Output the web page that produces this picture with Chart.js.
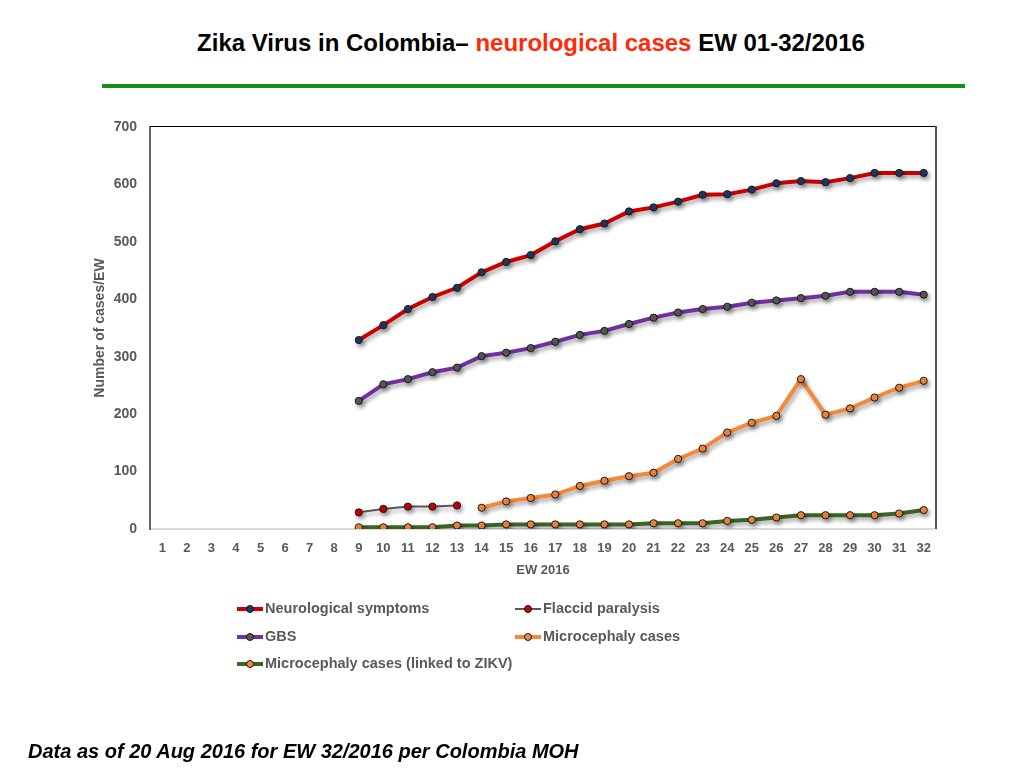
<!DOCTYPE html>
<html>
<head>
<meta charset="utf-8">
<script src="https://cdn.jsdelivr.net/npm/chart.js@4/dist/chart.umd.min.js"></script>
<style>
  body { margin: 0; background: #fff; font-family: "Liberation Sans", Arial, sans-serif; }
  #wrap { position: relative; width: 1024px; height: 768px; overflow: hidden; }
  #title { position: absolute; left: 0; width: 1062px; top: 29px; text-align: center;
           font-size: 24px; font-weight: bold; color: #000; }
  #title .red { color: #ff2a0a; }
  #rule { position: absolute; left: 102px; width: 863px; top: 84px; height: 4px; background: #138f13; }
  #chartBox { position: absolute; left: 0; top: 0; width: 1024px; height: 768px; }
  #legend { position: absolute; left: 237px; top: 598px; width: 560px; }
  .item { position: absolute; height: 20px; font-size: 14.5px; font-weight: bold; color: #595959;
          white-space: nowrap; line-height: 20px; }
  .item canvas { vertical-align: middle; margin-right: 2px; }
  #footer { position: absolute; left: 28px; top: 740px; font-size: 20px; font-weight: bold;
            font-style: italic; color: #000; }
</style>
</head>
<body>
<div id="wrap">
  <div id="title">Zika Virus in Colombia&#8211; <span class="red">neurological cases</span> EW 01-32/2016</div>
  <div id="rule"></div>
  <div id="chartBox"><canvas id="myChart" width="1024" height="768"></canvas></div>
  <div id="legend"></div>
  <div id="footer">Data as of 20 Aug 2016 for EW 32/2016 per Colombia MOH</div>
</div>
<script>
const weeks = ["1","2","3","4","5","6","7","8","9","10","11","12","13","14","15","16",
  "17","18","19","20","21","22","23","24","25","26","27","28","29","30","31","32"];

const neurological = [null,null,null,null,null,null,null,null,
  329,355,383,404,420,447,465,477,501,522,532,553,560,570,582,583,591,602,606,604,611,620,620,620];
const flaccid = [null,null,null,null,null,null,null,null,
  29,35,39,39,41,null,null,null,null,null,null,null,null,null,null,null,null,null,null,null,null,null,null,null];
const gbs = [null,null,null,null,null,null,null,null,
  223,252,261,273,281,301,307,315,326,338,345,357,368,377,383,387,394,398,402,406,413,413,413,408];
const microcephaly = [null,null,null,null,null,null,null,null,
  null,null,null,null,null,37,48,54,60,75,84,92,98,122,140,168,185,197,261,199,210,229,246,258];
const microZikv = [null,null,null,null,null,null,null,null,
  3,3,3,3,6,6,8,8,8,8,8,8,10,10,10,14,16,20,24,24,24,24,27,33];

const yTicks = [0, 100, 200, 300, 400, 500, 600, 700];

const gray = "#595959";
const tickFont = { family: "'Liberation Sans', Arial, sans-serif", weight: "bold" };

function series(label, data, line, width, dot) {
  return {
    label: label,
    data: data,
    borderColor: line,
    borderWidth: width,
    pointBackgroundColor: dot,
    pointBorderColor: "#1a1a1a",
    pointBorderWidth: 1,
    pointRadius: 3.6,
    pointHoverRadius: 3.6,
    tension: 0,
    spanGaps: false,
    fill: false,
  };
}

const chartData = {
  labels: weeks,
  datasets: [
    series("Neurological symptoms", neurological, "#cc0000", 4, "#1f3864"),
    series("Flaccid paralysis", flaccid, "#595959", 2, "#cc0000"),
    series("GBS", gbs, "#7030a0", 4, "#595959"),
    series("Microcephaly cases", microcephaly, "#f5893a", 4, "#f5893a"),
    series("Microcephaly cases (linked to ZIKV)", microZikv, "#3b6326", 4, "#f5893a"),
  ],
};

// soft drop shadow under the lines, like the original slide
const shadowPlugin = {
  id: "shadow",
  beforeDatasetsDraw(chart) {
    const c = chart.ctx;
    c.save();
    c.shadowColor = "rgba(0,0,0,0.35)";
    c.shadowBlur = 4;
    c.shadowOffsetX = 2;
    c.shadowOffsetY = 3;
  },
  afterDatasetsDraw(chart) {
    chart.ctx.restore();
  },
};

// top and right frame of the plot area
const framePlugin = {
  id: "frame",
  afterDraw(chart) {
    const a = chart.chartArea;
    const c = chart.ctx;
    c.save();
    c.strokeStyle = "#000";
    c.lineWidth = 1;
    c.beginPath();
    c.moveTo(a.left, a.top - 0.5);
    c.lineTo(a.right, a.top - 0.5);
    c.stroke();
    c.strokeStyle = "#555";
    c.lineWidth = 2;
    c.beginPath();
    c.moveTo(a.right, a.top - 1);
    c.lineTo(a.right, a.bottom);
    c.stroke();
    c.restore();
  },
};

const ctx = document.getElementById("myChart").getContext("2d");
const chart = new Chart(ctx, {
  type: "line",
  data: chartData,
  plugins: [shadowPlugin, framePlugin],
  options: {
    responsive: false,
    animation: false,
    events: [],
    layout: { padding: { left: 88, top: 127, right: 88, bottom: 190 } },
    plugins: {
      legend: { display: false },
      tooltip: { enabled: false },
    },
    scales: {
      x: {
        offset: true,
        grid: { display: false, drawTicks: false },
        border: { color: "#d9d9d9", width: 2 },
        ticks: { color: gray, font: { ...tickFont, size: 13 }, padding: 12, maxRotation: 0, autoSkip: false },
        title: { display: true, text: "EW 2016", color: gray, font: { ...tickFont, size: 13 }, padding: { top: 0, bottom: 0 } },
        afterFit(scale) { scale.height = 49; },
      },
      y: {
        min: 0,
        max: 700,
        grid: { display: false, drawTicks: false },
        border: { color: "#666", width: 2 },
        afterBuildTicks(scale) { scale.ticks = yTicks.map(v => ({ value: v })); },
        ticks: { color: gray, font: { ...tickFont, size: 14 }, padding: 13 },
        title: { display: true, text: "Number of cases/EW", color: gray, font: { ...tickFont, size: 14 }, padding: { top: 4, bottom: 0 } },
        afterFit(scale) { scale.width = 62; },
      },
    },
  },
});

// two-column legend built from the datasets
const legendPos = [[0, 0], [278, 0], [0, 28], [278, 28], [0, 55]];
const legendEl = document.getElementById("legend");
chart.data.datasets.forEach(function (ds, i) {
  const item = document.createElement("div");
  item.className = "item";
  item.style.left = legendPos[i][0] + "px";
  item.style.top = legendPos[i][1] + "px";
  const sw = document.createElement("canvas");
  sw.width = 26; sw.height = 12;
  const g = sw.getContext("2d");
  g.strokeStyle = ds.borderColor;
  g.lineWidth = ds.borderWidth;
  g.beginPath(); g.moveTo(0, 6); g.lineTo(26, 6); g.stroke();
  g.fillStyle = ds.pointBackgroundColor;
  g.strokeStyle = "#1a1a1a";
  g.lineWidth = 1;
  g.beginPath(); g.arc(13, 6, 3.5, 0, Math.PI * 2); g.fill(); g.stroke();
  item.appendChild(sw);
  item.appendChild(document.createTextNode(ds.label));
  legendEl.appendChild(item);
});
</script>
</body>
</html>
